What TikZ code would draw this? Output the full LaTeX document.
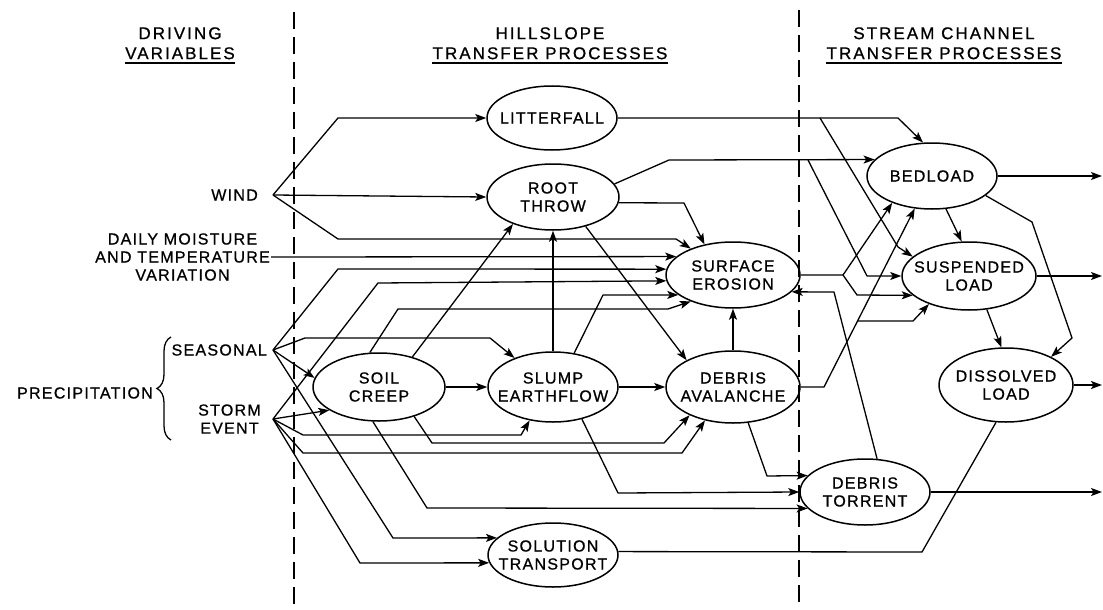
\documentclass[tikz,border=0pt]{standalone}
\usepackage{fontspec}
\newfontfamily\lettering{Liberation Sans}[LetterSpace=8,FakeBold=0.8]
\newfontfamily\headfont{Liberation Sans}[LetterSpace=12,FakeBold=0.8]
\usetikzlibrary{positioning,shapes.geometric,arrows.meta,decorations.pathreplacing}

\begin{document}
\begin{tikzpicture}[
  x=1pt, y=-1pt,
  font=\lettering\fontsize{16}{18}\selectfont,
  proc/.style={ellipse, draw, line width=1.5pt, inner sep=0pt},
  ptext/.style={align=center, inner sep=0pt},
  lbl/.style={align=center, inner sep=1pt},
  hdr/.style={align=center, anchor=south, inner xsep=0pt, inner ysep=3.5pt,
              font=\headfont\fontsize{17}{20}\selectfont},
  conn/.style={line width=1.3pt, line join=round},
  arr/.style={conn, -{Stealth[length=11pt,width=8pt,inset=2.5pt]}},
  zone/.style={line width=2.2pt, dash pattern=on 17pt off 8pt},
  brace/.style={line width=1.3pt, decorate, decoration={brace, amplitude=14pt}}
]
\useasboundingbox (0,0) rectangle (1103,610);

% ============ COLUMN HEADERS + DIVIDERS ============
\node[hdr] (hdrive)  at (180,63) {DRIVING\\VARIABLES};
\node[hdr] (hhill)   at (550,63) {HILLSLOPE\\TRANSFER PROCESSES};
\node[hdr] (hstream) at (944,63) {STREAM CHANNEL\\TRANSFER PROCESSES};
\draw[conn] (hdrive.south west) -- (hdrive.south east);
\draw[conn] (hhill.south west) -- (hhill.south east);
\draw[conn] (hstream.south west) -- (hstream.south east);

\draw[zone] (294,12) -- (294,610);
\draw[zone] (799,10) -- (799,610);

% ============ DRIVING VARIABLES ============
\coordinate (wj) at (273,195);
\coordinate (sj) at (273,350);
\coordinate (tj) at (273,419);
\node[lbl, left=14pt of wj] (wind)  {WIND};
\node[lbl, left=5pt of sj]  (seas)  {SEASONAL};
\node[lbl, left=11pt of tj] (storm) {STORM\\EVENT};
\node[lbl, anchor=east] (daily)  at (271,257) {DAILY MOISTURE\\AND TEMPERATURE\\VARIATION};
\node[lbl, anchor=east] (precip) at (154,393) {PRECIPITATION};
\draw[brace] (171,440) -- (171,337);

% ============ HILLSLOPE PROCESSES ============
\node[proc, minimum width=130pt, minimum height=64pt] (litter) at (552,118) {};
\node[ptext] (litter-t) at (litter) {LITTERFALL};
\node[proc, minimum width=132pt, minimum height=66pt] (root) at (553,197) {};
\node[ptext] (root-t) at (root) {ROOT\\THROW};
\node[proc, minimum width=134pt, minimum height=66pt] (surf) at (733,275) {};
\node[ptext] (surf-t) at (surf) {SURFACE\\EROSION};
\node[proc, minimum width=132pt, minimum height=68pt] (soil) at (379,387) {};
\node[ptext] (soil-t) at (soil) {SOIL\\CREEP};
\node[proc, minimum width=130pt, minimum height=70pt] (slump) at (553,387) {};
\node[ptext] (slump-t) at (slump) {SLUMP\\EARTHFLOW};
\node[proc, minimum width=134pt, minimum height=72pt] (aval) at (733,387) {};
\node[ptext] (aval-t) at (aval) {DEBRIS\\AVALANCHE};
\node[proc, minimum width=130pt, minimum height=64pt] (sol) at (553,555) {};
\node[ptext] (sol-t) at (sol) {SOLUTION\\TRANSPORT};

% ============ STREAM CHANNEL PROCESSES ============
\node[proc, minimum width=130pt, minimum height=66pt] (torr) at (865,492) {};
\node[ptext] (torr-t) at (torr) {DEBRIS\\TORRENT};
\node[proc, minimum width=130pt, minimum height=66pt] (bed) at (932,176) {};
\node[ptext] (bed-t) at (bed) {BEDLOAD};
\node[proc, minimum width=134pt, minimum height=68pt] (susp) at (969,276) {};
\node[ptext] (susp-t) at (susp) {SUSPENDED\\LOAD};
\node[proc, minimum width=134pt, minimum height=74pt] (diss) at (1006,385) {};
\node[ptext] (diss-t) at (diss) {DISSOLVED\\LOAD};

\coordinate (bedout)  at (1102,176);
\coordinate (suspout) at (1102,276);
\coordinate (dissout) at (1102,385);
\coordinate (torrout) at (1102,492);

% ============ WIND / MOISTURE ============
\draw[arr] (wj) -- (338,118) -- (litter.west);
\draw[arr] (wj) -- (root.west);
\draw[arr] (wj) -- (338,239) -- (676,239) -- (surf.148);
\draw[arr] (daily.east) -- (surf.162);

% ============ PRECIPITATION ============
\draw[arr] (sj) -- (338,269) -- (surf.175);
\draw[arr] (sj) -- (305,338) -- (490,338) -- (slump.143);
\draw[arr] (sj) -- (soil.172);
\draw[arr] (sj) -- (393,538) -- (sol.163);

\draw[arr] (tj) -- (378,283) -- (surf.185);
\draw[arr] (tj) -- (soil.205);
\draw[arr] (tj) -- (303,435) -- (521,435) -- (slump.235);
\draw[arr] (tj) -- (303,453) -- (682,453) -- (aval.230);
\draw[arr] (tj) -- (360,563) -- (sol.187);

% ============ HILLSLOPE TRANSFERS ============
\draw[arr] (soil.east) -- (slump.west);
\draw[arr] (soil.42) -- (root.214);
\draw[arr] (soil.105) -- (398,309) -- (668,309) -- (surf.212);
\draw[arr] (soil.320) -- (432,443) -- (664,443) -- (aval.213);
\draw[arr] (soil.260) -- (427,508) -- (torr.196);

\draw[arr] (slump.east) -- (aval.west);
\draw[arr] (slump.north) -- (root.south);
\draw[arr] (slump.58) -- (603,295) -- (surf.200);
\draw[arr] (slump.312) -- (618,493) -- (torr.west);

\draw[arr] (root.355) -- (684,203) -- (surf.133);
\draw[arr] (root.318) -- (aval.150);
\draw[arr] (aval.north) -- (surf.south);
\draw[arr] (aval.293) -- (767,476) -- (torr.164);

% ============ INTO THE CHANNEL ============
\draw[arr] (litter.east) -- (898,118) -- (bed.105);
\coordinate (ltfork) at (820,118);
\draw[arr] (ltfork) -- (898,247) -- (susp.161);

\draw[arr] (root.12) -- (669,160) -- (bed.164);
\coordinate (rtfork) at (808,160);
\draw[arr] (rtfork) -- (867,276) -- (susp.west);

\draw[arr] (surf.east) -- (843,275) -- (bed.214);
\coordinate (sefork) at (843,275);
\draw[arr] (sefork) -- (857,295) -- (susp.199);

\draw[arr] (aval.east) -- (824,387) -- (bed.242);
\coordinate (avfork) at (857,321);
\draw[arr] (avfork) -- (913,321) -- (susp.215);

\draw[arr] (torr.70) -- (834,292) -- (surf.344);
\draw[conn] (sol.3) -- (922,552) -- (diss.255);

% ============ CHANNEL TRANSFERS + OUTPUTS ============
\draw[arr] (bed.293) -- (susp.102);
\draw[arr] (bed.340) -- (1032,222) -- (1072,338) -- (diss.32);
\draw[arr] (susp.298) -- (diss.97);

\draw[arr] (bed.east) -- (bedout);
\draw[arr] (susp.east) -- (suspout);
\draw[arr, line width=1.8pt] (diss.east) -- (dissout);
\draw[arr] (torr.east) -- (torrout);

\end{tikzpicture}
\end{document}
